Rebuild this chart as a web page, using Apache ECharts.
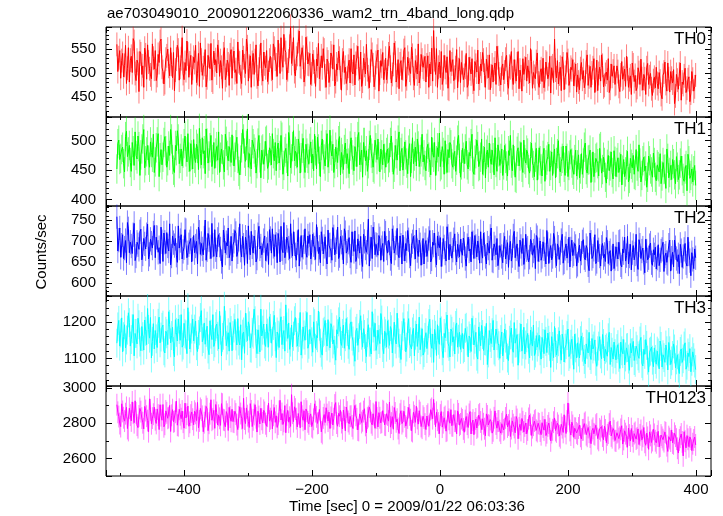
<!DOCTYPE html>
<html><head><meta charset="utf-8">
<script src="https://cdn.jsdelivr.net/npm/echarts@6/dist/echarts.min.js"></script>
<style>html,body{margin:0;padding:0;background:#fff}#c{width:723px;height:516px}</style>
</head><body><div id="c"></div>
<script>
// Light-curve bins: main bins at tStart + k*binSize, mid bins half a bin later.
const tStart = -505, binSize = 3;
const th0 = [560,532,489,541,516,478,553,527,501,566,484,520,545,497,470,538,559,509,488,531,
547,495,522,571,503,480,536,514,553,490,463,529,548,512,574,486,505,540,521,476,
533,558,499,472,527,511,549,490,536,562,481,517,500,544,526,468,553,495,519,538,
489,546,507,565,521,478,532,499,555,514,470,541,526,492,508,563,483,519,547,501,
535,486,552,517,569,499,528,581,543,507,556,520,574,494,539,588,512,533,497,552,
518,476,540,503,529,562,487,511,548,470,523,496,535,559,482,507,531,464,545,512,
489,527,551,498,475,533,509,544,483,516,560,492,505,539,471,522,548,500,514,486,
531,503,556,479,518,542,495,467,526,509,553,488,520,499,537,474,512,561,493,527,
508,481,536,519,552,589,497,470,523,545,488,512,534,466,503,528,491,549,507,480,
522,495,541,476,509,530,463,516,548,489,504,527,470,513,538,494,481,521,556,498,
475,519,502,537,468,511,490,528,483,545,506,462,497,533,515,479,524,501,488,542,
470,509,531,486,520,497,458,515,571,490,477,512,534,465,501,526,484,507,473,519,
496,465,522,505,481,538,492,470,511,459,527,499,483,516,474,502,530,468,493,515,
478,503,461,524,490,472,509,486,455,517,495,470,501,529,464,488,511,476,499,453,
491,512,467,483,446,502,478,521,460,489,507,452,485,498,443,476,510,468,492,458,
487,471];
const th0Mid = [503,547,526,492,558,510,481,535,572,499,527,461,540,515,552,487,523,496,561,508,
484,539,566,512,477,529,550,494,518,543,506,558,485,530,499,522,567,491,537,510,
522,480,541,563,495,518,471,537,509,485,546,528,559,493,512,540,486,527,474,549,
530,501,478,524,492,548,515,571,483,536,522,497,559,473,535,499,544,511,482,527,
508,561,529,493,537,574,512,549,486,525,598,540,503,531,566,514,553,481,575,519,
541,498,523,472,515,488,536,551,494,529,480,542,508,473,519,546,490,527,501,478,
514,479,503,538,520,556,487,472,531,498,507,469,549,517,490,535,462,526,543,503,
486,540,512,497,563,481,528,519,486,547,472,533,506,554,489,526,498,479,539,512,
535,517,470,498,483,528,551,512,490,476,537,501,468,547,519,484,511,469,530,522,
486,512,470,533,498,481,524,502,477,519,543,495,529,490,465,517,508,476,532,487,
511,486,529,480,514,545,476,503,519,467,492,530,510,483,502,551,468,493,524,479,
502,482,469,523,488,535,511,480,506,526,498,463,519,491,543,474,512,528,497,460,
481,509,487,469,523,474,514,500,530,486,463,512,538,471,497,485,459,519,504,476,
515,472,496,487,508,535,470,494,521,482,463,511,476,488,497,455,520,492,467,484,
469,478,501,455,495,523,462,488,503,479,436,497,466,521,481,494,459,486,440,503,
462,496];
const th1 = [452,501,470,489,447,516,481,463,497,458,475,508,441,486,519,466,492,455,480,511,
464,498,439,485,472,507,455,491,519,468,446,483,503,470,457,495,481,512,448,476,
502,463,487,521,459,478,444,496,474,509,468,453,490,515,472,485,447,499,466,481,
510,457,493,470,442,488,503,465,520,478,452,495,480,461,509,437,486,474,501,459,
483,512,466,449,496,475,506,458,487,440,501,469,517,482,455,492,471,504,446,479,
460,498,477,511,452,486,439,503,469,493,455,518,474,446,489,463,507,480,451,496,
478,444,505,467,490,456,514,472,438,497,483,461,509,470,452,488,503,447,476,494,
455,486,471,508,443,492,467,515,480,450,498,462,484,439,505,474,457,491,468,511,
476,449,494,463,506,472,441,488,513,459,480,500,446,471,493,455,482,467,509,438,
487,461,499,452,474,511,443,478,490,458,503,466,437,484,496,460,471,505,448,481,
470,441,492,457,483,509,449,466,436,488,474,455,501,462,479,445,496,458,472,433,
488,452,475,431,467,494,458,441,486,463,500,447,470,455,491,439,476,462,443,484,
459,437,478,462,496,445,468,429,481,454,472,440,490,451,463,428,475,457,446,483,
439,471,455,425,468,447,482,436,460,475,441,457,493,430,466,449,421,474,452,438,
463,432,456,478,440,451,419,470,446,434,461,427,455,442,474,436,452,415,466,441,
430,458];
const th1Mid = [495,468,485,461,507,473,492,448,483,515,469,490,476,503,454,481,467,498,472,446,
488,512,471,459,497,483,466,475,503,450,492,517,461,486,479,508,464,472,495,452,
470,494,451,478,505,483,520,462,488,456,497,479,467,446,486,459,511,475,490,463,
483,472,506,448,467,519,479,492,455,464,501,486,445,496,471,484,460,499,453,488,
459,478,497,485,462,509,443,481,470,514,454,490,466,478,503,445,487,461,494,470,
487,462,449,483,506,465,492,476,457,512,470,484,494,461,477,500,442,469,485,461,
462,491,476,449,481,507,459,484,497,466,448,492,479,455,501,468,473,486,459,470,
480,463,497,472,455,478,501,449,487,465,476,444,495,470,461,489,503,456,481,464,
458,487,472,442,480,497,466,473,456,490,443,469,485,497,461,476,448,501,470,459,
472,486,459,480,495,448,467,501,456,472,443,489,477,455,470,484,442,463,493,458,
486,459,470,440,475,462,493,438,482,457,497,446,468,484,451,473,462,439,487,459,
466,440,487,459,473,448,481,469,437,478,453,465,491,441,470,458,485,450,468,440,
476,452,443,489,451,467,484,455,439,470,461,487,445,472,438,460,449,481,435,465,
463,446,477,450,439,459,430,470,454,443,485,448,462,441,472,457,438,466,447,479,
438,459,447,427,463,452,486,437,458,468,442,473,434,462,449,431,458,477,436,452,
449,424];
const th2 = [758,702,661,715,683,648,729,697,670,742,664,691,722,655,706,681,740,668,695,719,
660,708,684,733,651,697,720,676,643,712,689,666,736,701,657,684,725,672,698,650,
713,688,645,721,694,667,750,679,703,658,690,727,662,715,681,638,708,696,731,670,
652,699,718,674,741,662,690,709,646,684,723,671,697,659,735,688,664,712,680,644,
706,729,663,692,718,650,681,744,675,701,658,689,722,667,696,640,713,685,729,661,
694,657,716,683,739,670,648,705,687,662,726,691,654,710,679,733,665,697,645,720,
676,708,649,693,724,662,687,711,639,699,673,752,681,658,716,692,666,705,684,651,
719,671,695,646,708,683,730,660,690,714,652,677,703,641,698,685,726,663,691,672,
645,701,679,725,657,690,666,712,684,639,706,671,734,655,693,678,717,650,688,704,
666,693,640,709,681,722,658,687,700,647,676,719,663,695,671,731,652,684,706,660,
690,648,711,674,637,699,665,723,681,655,702,670,644,716,683,661,697,676,634,708,
679,654,698,667,725,646,689,663,707,641,685,672,716,650,693,676,638,702,669,687,
644,690,671,703,655,682,629,697,664,715,651,679,640,694,668,708,646,677,660,634,
686,657,699,638,672,652,711,664,631,689,669,645,703,658,683,624,676,660,695,642,
667,633,691,655,680,627,671,646,702,659,638,684,651,622,677,663,694,640,669,617,
656,681];
const th2Mid = [676,731,690,658,701,744,672,688,715,653,697,680,728,669,693,715,657,704,683,737,
709,673,646,698,719,670,688,741,664,696,706,649,683,715,675,727,660,691,706,681,
672,699,733,668,681,707,654,718,686,742,663,679,704,690,651,726,671,688,660,711,
690,725,663,704,678,711,642,697,736,667,686,712,650,715,681,667,701,653,694,727,
671,687,715,648,699,735,672,660,709,683,741,664,693,654,727,680,661,698,672,712,
715,673,691,656,704,685,722,669,710,645,690,676,732,667,698,658,711,684,729,671,
697,664,722,675,651,705,671,656,716,683,697,640,709,733,667,690,713,654,694,723,
683,702,658,729,671,696,667,712,645,681,694,725,664,689,711,657,677,702,642,706,
691,663,706,650,697,719,643,693,708,668,686,652,711,692,659,703,671,692,662,676,
707,658,689,676,650,696,713,662,683,722,659,692,645,683,711,654,693,667,641,689,
663,691,657,696,684,652,712,660,693,639,687,706,661,679,650,704,666,689,713,651,
700,663,681,645,692,677,655,718,665,693,656,701,647,682,659,709,681,665,694,640,
677,652,698,660,689,643,719,658,680,646,701,664,685,660,651,697,671,628,693,658,
668,697,643,681,709,665,645,692,672,655,716,632,690,676,649,704,655,689,648,679,
685,659,641,676,697,664,649,690,628,673,702,658,667,692,637,680,648,709,653,672,
634,660];
const th3 = [1142,1205,1170,1118,1193,1151,1226,1134,1182,1107,1169,1211,1145,1188,1123,1175,1238,1156,1101,1196,
1177,1130,1214,1159,1192,1115,1168,1229,1143,1186,1104,1172,1209,1150,1131,1197,1165,1240,1126,1181,
1148,1203,1119,1176,1232,1155,1139,1189,1110,1167,1221,1143,1195,1126,1178,1158,1244,1135,1171,1199,
1121,1184,1162,1210,1137,1096,1173,1225,1149,1190,1128,1167,1204,1113,1152,1236,1178,1140,1195,1131,
1183,1147,1219,1102,1164,1198,1138,1177,1248,1155,1125,1192,1161,1213,1134,1172,1109,1187,1150,1227,
1139,1180,1117,1196,1163,1231,1142,1109,1175,1158,1207,1129,1186,1151,1095,1168,1214,1136,1192,1160,
1174,1125,1201,1148,1092,1183,1157,1218,1131,1166,1105,1193,1145,1229,1160,1122,1178,1141,1206,1113,
1168,1204,1136,1179,1118,1153,1225,1142,1097,1187,1160,1131,1210,1146,1173,1107,1195,1155,1124,1182,
1116,1171,1150,1208,1128,1089,1164,1193,1139,1176,1102,1157,1220,1133,1181,1145,1112,1198,1153,1125,
1169,1130,1186,1104,1155,1211,1137,1172,1098,1160,1191,1122,1148,1083,1177,1141,1205,1118,1163,1135,
1152,1107,1181,1138,1094,1165,1126,1199,1143,1081,1158,1120,1186,1137,1169,1101,1147,1192,1115,1131,
1164,1098,1141,1179,1116,1150,1075,1133,1188,1109,1146,1125,1167,1090,1138,1181,1112,1153,1070,1129,
1143,1101,1162,1119,1085,1138,1172,1097,1126,1151,1078,1134,1112,1166,1093,1129,1157,1083,1117,1145,
1096,1138,1072,1121,1152,1104,1130,1067,1115,1147,1089,1124,1100,1158,1079,1111,1136,1062,1120,1095,
1129,1084,1115,1148,1076,1102,1137,1068,1121,1093,1140,1074,1110,1058,1126,1099,1143,1081,1105,1063,
1118,1087];
const th3Mid = [1187,1134,1212,1160,1129,1178,1199,1152,1221,1169,1140,1193,1121,1160,1206,1138,1180,1213,1147,1126,
1154,1197,1143,1186,1121,1175,1138,1194,1163,1119,1207,1148,1180,1221,1137,1168,1113,1189,1157,1209,
1181,1135,1166,1213,1146,1198,1172,1126,1204,1152,1133,1188,1161,1230,1107,1164,1192,1151,1120,1177,
1163,1208,1137,1148,1193,1167,1114,1185,1201,1129,1172,1236,1141,1179,1118,1162,1195,1133,1170,1215,
1142,1191,1160,1173,1130,1215,1166,1120,1187,1198,1145,1132,1204,1171,1158,1227,1140,1165,1191,1128,
1180,1146,1201,1128,1157,1189,1117,1171,1205,1134,1162,1196,1140,1122,1179,1201,1147,1169,1128,1210,
1139,1195,1161,1118,1175,1136,1194,1164,1182,1127,1171,1145,1112,1184,1197,1138,1152,1224,1130,1175,
1131,1167,1188,1115,1200,1140,1171,1127,1163,1210,1118,1190,1141,1126,1183,1164,1133,1214,1145,1109,
1158,1127,1196,1143,1167,1180,1108,1150,1212,1121,1169,1188,1142,1104,1175,1160,1191,1131,1172,1157,
1126,1183,1148,1162,1119,1178,1153,1106,1187,1135,1166,1149,1197,1115,1158,1171,1123,1181,1142,1100,
1173,1130,1156,1101,1150,1184,1117,1142,1166,1128,1195,1139,1112,1157,1125,1178,1134,1108,1163,1146,
1121,1158,1113,1147,1170,1133,1160,1102,1144,1127,1176,1095,1152,1128,1163,1105,1139,1121,1167,1101,
1118,1149,1131,1097,1140,1115,1108,1155,1134,1092,1121,1160,1099,1141,1125,1106,1172,1130,1098,1113,
1127,1103,1145,1113,1082,1129,1098,1141,1116,1094,1134,1107,1148,1086,1125,1152,1095,1117,1131,1077,
1097,1120,1071,1133,1110,1089,1121,1144,1083,1108,1126,1096,1073,1119,1089,1134,1070,1115,1127,1092,
1102,1069];
const th0123 = [2905,2838,2781,2867,2812,2890,2759,2846,2921,2803,2858,2775,2884,2829,2768,2872,2815,2938,2797,2851,
2820,2881,2764,2843,2906,2794,2859,2832,2753,2877,2811,2925,2786,2848,2869,2772,2830,2897,2805,2864,
2791,2856,2918,2813,2874,2752,2839,2882,2800,2933,2825,2771,2861,2845,2788,2908,2817,2866,2759,2835,
2879,2806,2852,2764,2893,2827,2941,2798,2843,2776,2870,2819,2905,2750,2838,2885,2802,2861,2783,2914,
2826,2768,2889,2842,2795,2930,2855,2811,2746,2873,2834,2962,2809,2880,2779,2851,2922,2817,2763,2868,
2796,2853,2775,2910,2836,2801,2867,2742,2849,2888,2812,2770,2858,2826,2917,2783,2840,2804,2875,2757,
2863,2797,2840,2770,2901,2825,2759,2856,2814,2882,2746,2838,2870,2791,2845,2923,2779,2831,2806,2866,
2789,2847,2920,2801,2766,2858,2823,2742,2871,2810,2836,2775,2889,2820,2753,2842,2896,2795,2860,2772,
2829,2764,2851,2793,2884,2935,2780,2817,2741,2866,2803,2838,2759,2822,2877,2785,2812,2740,2853,2796,
2819,2749,2838,2776,2866,2801,2735,2824,2780,2853,2764,2797,2729,2841,2786,2809,2757,2870,2772,2813,
2744,2808,2769,2851,2790,2725,2813,2776,2838,2712,2794,2827,2750,2801,2762,2846,2731,2789,2818,2753,
2796,2735,2779,2822,2746,2801,2700,2763,2830,2751,2787,2718,2775,2848,2742,2915,2759,2806,2720,2771,
2738,2790,2711,2763,2805,2726,2749,2684,2771,2735,2796,2703,2758,2727,2783,2690,2744,2812,2718,2757,
2699,2752,2721,2786,2708,2741,2664,2733,2770,2695,2748,2717,2679,2759,2726,2692,2744,2652,2731,2702,
2737,2689,2754,2671,2720,2696,2745,2640,2713,2762,2683,2727,2658,2705,2739,2615,2698,2730,2667,2710,
2684,2722];
const th0123Mid = [2862,2798,2910,2831,2854,2770,2885,2813,2857,2927,2789,2841,2866,2803,2895,2840,2752,2876,2829,2891,
2799,2846,2905,2817,2780,2870,2828,2901,2845,2808,2862,2789,2879,2826,2806,2914,2851,2783,2846,2823,
2868,2815,2774,2884,2839,2803,2895,2758,2854,2817,2873,2906,2790,2828,2911,2820,2780,2851,2890,2811,
2809,2868,2792,2836,2855,2770,2824,2887,2809,2911,2781,2850,2831,2868,2796,2822,2873,2797,2840,2812,
2871,2845,2805,2776,2867,2818,2793,2900,2848,2806,2782,2857,2893,2826,2855,2774,2840,2871,2881,2808,
2840,2781,2822,2866,2799,2878,2751,2830,2804,2849,2863,2833,2790,2903,2801,2856,2873,2768,2833,2892,
2810,2839,2785,2872,2845,2762,2853,2804,2866,2788,2829,2891,2803,2854,2771,2830,2860,2802,2871,2791,
2854,2812,2778,2837,2889,2808,2770,2851,2798,2868,2784,2830,2847,2758,2862,2805,2827,2871,2781,2840,
2795,2841,2783,2877,2826,2853,2862,2801,2846,2778,2831,2755,2868,2800,2786,2849,2811,2870,2789,2827,
2768,2815,2795,2850,2739,2818,2802,2773,2846,2807,2825,2769,2853,2790,2821,2744,2831,2796,2812,2758,
2797,2762,2830,2779,2815,2770,2792,2746,2821,2774,2759,2808,2785,2740,2827,2793,2775,2812,2760,2800,
2756,2803,2761,2730,2785,2769,2747,2806,2759,2800,2729,2794,2748,2781,2812,2850,2733,2787,2772,2745,
2773,2726,2762,2798,2735,2776,2722,2759,2740,2789,2713,2768,2781,2706,2762,2734,2795,2728,2770,2702,
2746,2713,2765,2682,2757,2725,2773,2699,2728,2741,2710,2768,2734,2706,2776,2675,2720,2751,2691,2766,
2701,2728,2666,2733,2707,2750,2673,2724,2699,2688,2743,2710,2631,2721,2694,2752,2660,2709,2722,2645,
2705,2677];

const panelNames = ['TH0', 'TH1', 'TH2', 'TH3', 'TH0123'];
const panelMain = [th0, th1, th2, th3, th0123];
const panelMid = [th0Mid, th1Mid, th2Mid, th3Mid, th0123Mid];
const errHalf = [25, 25, 29, 40, 62];
const yMin = [407.8, 389.1, 568.6, 1023.6, 2501];
const yMax = [596.4, 540.3, 783.5, 1272.5, 3011];
const ySplit = [4, 3, 4, 2, 3];
const yMinorSplit = [5, 5, 5, 5, 2];
const xMin = -522, xMax = 423.5;
const titleText = 'ae703049010_20090122060336_wam2_trn_4band_long.qdp';
const xTitle = 'Time [sec] 0 = 2009/01/22 06:03:36';
const yTitle = 'Counts/sec';

const colors = ['#ff0000', '#00ff00', '#0000ff', '#00ffff', '#ff00ff'];
const tops = [27, 117, 206, 296, 386];
const heights = [90, 89, 90, 90, 90];
const FONT = 'Liberation Sans, Arial, Helvetica, sans-serif';

const chart = echarts.init(document.getElementById('c'), null, {renderer: 'canvas'});
const grids = [], xAxes = [], yAxes = [], series = [], graphics = [];

for (let i = 0; i < 5; i++) {
  grids.push({left: 106, right: 12, top: tops[i], height: heights[i], show: true,
    borderColor: '#000', borderWidth: 1, backgroundColor: 'transparent',
    containLabel: false, outerBoundsMode: 'none'});
  const tickCommon = {show: true, inside: true, length: 6, lineStyle: {color: '#000', width: 1}};
  const xBase = {type: 'value', gridIndex: i, min: xMin, max: xMax, splitNumber: 5,
    axisLine: {show: false, onZero: false}, splitLine: {show: false}, minorSplitLine: {show: false},
    axisTick: tickCommon,
    minorTick: {show: true, splitNumber: 2, length: 3, lineStyle: {color: '#000', width: 1}}};
  xAxes.push(Object.assign({}, xBase, {position: 'bottom',
    axisLabel: {show: i === 4, showMinLabel: false, showMaxLabel: false, margin: 6, color: '#000',
      fontSize: 15, fontFamily: FONT,
      formatter: v => String(v).replace('-', '\u2212')}}));
  xAxes.push(Object.assign({}, xBase, {position: 'top', axisLabel: {show: false}}));
  const yBase = {type: 'value', gridIndex: i, min: yMin[i], max: yMax[i], splitNumber: ySplit[i],
    axisLine: {show: false, onZero: false}, splitLine: {show: false}, minorSplitLine: {show: false},
    axisTick: tickCommon,
    minorTick: {show: true, splitNumber: yMinorSplit[i], length: 3, lineStyle: {color: '#000', width: 1}}};
  yAxes.push(Object.assign({}, yBase, {position: 'left',
    axisLabel: {show: true, showMinLabel: false, showMaxLabel: false, margin: 10, color: '#000',
      fontSize: 15, fontFamily: FONT, formatter: v => String(v)}}));
  yAxes.push(Object.assign({}, yBase, {position: 'right', axisLabel: {show: false}}));

  const a = panelMain[i], b = panelMid[i];
  const pts = [];
  for (let k = 0; k < a.length; k++) {
    pts.push([tStart + k * binSize, a[k]]);
    if (k < b.length) pts.push([tStart + (k + 0.5) * binSize, b[k]]);
  }
  const err = errHalf[i], col = colors[i];
  series.push({type: 'custom', xAxisIndex: 2 * i, yAxisIndex: 2 * i, data: pts, silent: true,
    renderItem: function (params, api) {
      const t = api.value(0), v = api.value(1);
      const p1 = api.coord([t, v - err]), p2 = api.coord([t, v + err]);
      return {type: 'line', shape: {x1: p1[0], y1: p1[1], x2: p2[0], y2: p2[1]},
        style: {stroke: col, lineWidth: 1, opacity: 0.5}};
    }});
  series.push({type: 'line', xAxisIndex: 2 * i, yAxisIndex: 2 * i, data: pts, symbol: 'none',
    showSymbol: false, silent: true, lineStyle: {color: col, width: 1}, itemStyle: {color: col}});

  graphics.push({type: 'text', x: 706, y: tops[i] + 12, silent: true,
    style: {text: panelNames[i], font: '17px ' + FONT, fill: '#000', textAlign: 'right', textVerticalAlign: 'middle'}});
}
graphics.push({type: 'text', x: 107, y: 14, silent: true,
  style: {text: titleText, font: '15px ' + FONT, fill: '#000', textAlign: 'left', textVerticalAlign: 'middle'}});
graphics.push({type: 'text', x: 407, y: 507, silent: true,
  style: {text: xTitle, font: '15px ' + FONT, fill: '#000', textAlign: 'center', textVerticalAlign: 'middle'}});
graphics.push({type: 'text', x: 42, y: 252, rotation: Math.PI / 2, silent: true,
  style: {text: yTitle, font: '15px ' + FONT, fill: '#000', textAlign: 'center', textVerticalAlign: 'middle'}});

chart.setOption({animation: false, backgroundColor: '#fff', grid: grids, xAxis: xAxes, yAxis: yAxes,
  series: series, graphic: graphics});
</script></body></html>
